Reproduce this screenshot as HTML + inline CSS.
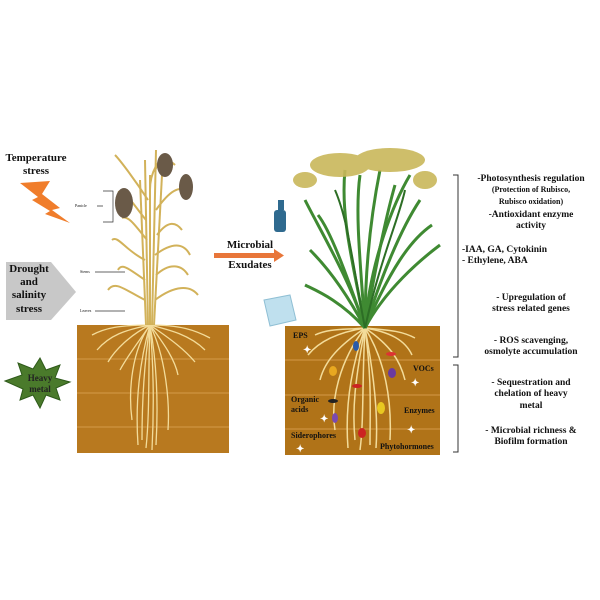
<!DOCTYPE html>
<html><head><meta charset="utf-8"><style>
body{margin:0;background:#fff;width:600px;height:600px;overflow:hidden;position:relative;font-family:"Liberation Serif",serif;font-weight:bold;color:#111}
.t{position:absolute;text-align:center;line-height:1.2}
</style></head><body>
<svg width="600" height="600" style="position:absolute;left:0;top:0">
<polygon points="20,183 50,181 42,194 60,208 52,210 70,223 45,214 50,211 32,200 38,197" fill="#f07d2b"/>
<polygon points="6,262 51,262 76,292 51,320 6,320" fill="#c8c8c8"/>
<polygon points="5,381 22,375 18,363 33,369 40,358 46,370 60,365 55,378 70,382 56,388 60,400 46,395 40,408 33,395 20,400 23,389" fill="#4a7a2b" stroke="#2e5a1a"/>
<rect x="214" y="253" width="62" height="5" fill="#e8763a"/><polygon points="274,249 284,255.5 274,262" fill="#e8763a"/>
<rect x="77" y="325" width="152" height="128" fill="#b8791f"/>
<g stroke="#d49a48" stroke-width="1"><line x1="77" y1="359" x2="229" y2="359"/><line x1="77" y1="393" x2="229" y2="393"/><line x1="77" y1="427" x2="229" y2="427"/></g>
<rect x="285" y="326" width="155" height="129" fill="#b07318"/>
<g stroke="#d49a48" stroke-width="1"><line x1="285" y1="360" x2="440" y2="360"/><line x1="285" y1="395" x2="440" y2="395"/><line x1="285" y1="429" x2="440" y2="429"/></g>
<g stroke="#f3dc9a" stroke-width="1.3" fill="none">
<path d="M150,325 C140,360 135,400 138,445"/><path d="M150,325 C148,370 150,410 146,448"/><path d="M150,325 C158,370 158,410 156,445"/><path d="M150,325 C165,355 170,400 168,430"/><path d="M150,325 C132,350 128,390 132,420"/><path d="M150,325 C143,370 142,410 142,440"/><path d="M150,325 C154,370 154,410 152,450"/>
<path d="M150,325 C125,330 110,335 97,350"/><path d="M150,325 C170,330 190,335 205,350"/><path d="M150,325 C130,335 115,350 108,362"/><path d="M150,325 C172,340 185,350 195,362"/><path d="M150,325 C140,340 128,355 120,370"/><path d="M150,325 C165,345 175,360 178,375"/><path d="M150,325 C120,325 105,328 92,335"/><path d="M150,325 C180,325 195,330 210,338"/>
</g>
<g stroke="#d2b25a" stroke-width="2" fill="none">
<path d="M148,325 L145,160"/><path d="M152,325 L156,150"/><path d="M150,325 L150,175"/><path d="M146,325 L140,180"/><path d="M154,325 L162,175"/>
<path d="M145,300 C125,290 115,280 108,290"/><path d="M155,300 C175,285 190,285 198,295"/><path d="M145,260 C125,250 118,235 112,240"/><path d="M155,255 C175,240 185,245 190,255"/><path d="M146,220 C130,200 125,190 118,192"/><path d="M156,210 C170,190 180,185 188,192"/><path d="M150,190 C150,170 160,160 165,155"/><path d="M148,200 C135,180 120,160 115,155"/><path d="M145,280 C130,270 122,262 118,270"/><path d="M156,275 C170,262 182,265 188,275"/><path d="M147,240 C135,225 128,215 122,218"/><path d="M157,235 C168,220 176,222 182,230"/><path d="M155,170 C160,160 168,158 175,165"/>
</g>
<g fill="#6a5a48"><ellipse cx="124" cy="203" rx="9" ry="15"/><ellipse cx="165" cy="165" rx="8" ry="12"/><ellipse cx="186" cy="187" rx="7" ry="13"/></g>
<g stroke="#333" stroke-width="0.7" fill="none"><path d="M103,191 L113,191 L113,222 L103,222 M103,206 L97,206"/><line x1="95" y1="272" x2="125" y2="272"/><line x1="95" y1="311" x2="125" y2="311"/></g>
<g stroke="#f3dc9a" stroke-width="1.5" fill="none">
<path d="M365,328 C350,370 345,410 348,448"/><path d="M365,328 C362,380 364,420 360,450"/><path d="M365,328 C375,380 378,420 376,448"/><path d="M365,328 C385,360 392,400 390,440"/><path d="M365,328 C340,360 330,400 335,430"/><path d="M365,328 C355,380 352,410 355,440"/><path d="M365,328 C372,380 370,410 370,445"/>
<path d="M365,328 C340,332 320,340 308,355"/><path d="M365,328 C390,332 405,340 412,355"/><path d="M365,328 C340,345 325,360 320,380"/><path d="M365,328 C390,345 400,360 405,380"/><path d="M365,328 C345,330 330,328 315,335"/><path d="M365,328 C385,330 400,330 415,338"/>
</g>
<g><ellipse cx="356" cy="346" rx="3" ry="5" fill="#2a5aa8"/><ellipse cx="391" cy="354" rx="5" ry="2" fill="#d33"/><ellipse cx="333" cy="371" rx="4" ry="5" fill="#e8a820"/><ellipse cx="392" cy="373" rx="4" ry="5" fill="#6a3aa0"/><ellipse cx="357" cy="386" rx="5" ry="2" fill="#c22"/><ellipse cx="381" cy="408" rx="4" ry="6" fill="#e8c820"/><ellipse cx="335" cy="418" rx="3" ry="5" fill="#7a4ab0"/><ellipse cx="362" cy="433" rx="4" ry="5" fill="#c22"/><ellipse cx="333" cy="401" rx="5" ry="2" fill="#222"/></g>
<g stroke="#3f8a32" stroke-width="3" fill="none">
<path d="M365,328 C350,280 320,230 305,200"/><path d="M365,328 C355,270 340,220 345,170"/><path d="M365,328 C365,270 370,220 380,170"/><path d="M365,328 C380,280 400,230 420,200"/><path d="M365,328 C385,290 420,260 440,245"/><path d="M365,328 C340,300 315,290 305,285"/><path d="M365,328 C370,260 395,200 410,175"/>
<path d="M365,328 C345,270 330,230 318,215"/><path d="M365,328 C360,260 355,210 360,175"/><path d="M365,328 C375,270 385,220 395,185"/><path d="M365,328 C390,270 410,240 432,225"/><path d="M365,328 C345,290 325,265 310,250"/>
</g>
<g stroke="#2d6e25" stroke-width="2" fill="none"><path d="M365,328 C352,260 348,220 335,190"/><path d="M365,328 C380,260 400,215 405,190"/></g>
<g fill="#c9b75a" opacity="0.9"><ellipse cx="340" cy="165" rx="30" ry="12"/><ellipse cx="390" cy="160" rx="35" ry="12"/><ellipse cx="305" cy="180" rx="12" ry="8"/><ellipse cx="425" cy="180" rx="12" ry="9"/></g>
<rect x="274" y="210" width="12" height="22" rx="3" fill="#2f6a8f"/><rect x="278" y="200" width="6" height="10" fill="#2f6a8f"/>
<path d="M264,300 L290,295 L296,320 L270,326 Z" fill="#bfe0ee" stroke="#8fbfd4"/>
<g stroke="#333" stroke-width="1" fill="none"><path d="M453,175 L458,175 L458,357 L453,357"/><path d="M453,365 L458,365 L458,452 L453,452"/></g>
<g fill="#fff" font-size="10"><text x="303" y="353">✦</text><text x="411" y="386">✦</text><text x="320" y="422">✦</text><text x="407" y="433">✦</text><text x="296" y="452">✦</text></g>
</svg>
<div class="t" style="left:2px;top:152px;width:68px;font-size:11px">Temperature<br>stress</div>
<div class="t" style="left:6px;top:263px;width:46px;font-size:11px">Drought<br>and<br>salinity<br>stress</div>
<div class="t" style="left:20px;top:373px;width:40px;font-size:9px;color:#222">Heavy<br>metal</div>
<div class="t" style="left:210px;top:236px;width:80px;font-size:11px;line-height:1.8">Microbial<br>Exudates</div>
<div class="t" style="left:75px;top:204px;font-size:4px;font-weight:normal">Panicle</div>
<div class="t" style="left:80px;top:270px;font-size:4px;font-weight:normal">Stems</div>
<div class="t" style="left:80px;top:309px;font-size:4px;font-weight:normal">Leaves</div>
<div class="t" style="left:293px;top:331px;font-size:8px;text-align:left">EPS</div>
<div class="t" style="left:413px;top:364px;font-size:8px;text-align:left">VOCs</div>
<div class="t" style="left:291px;top:395px;font-size:8px;text-align:left">Organic<br>acids</div>
<div class="t" style="left:404px;top:406px;font-size:8px;text-align:left">Enzymes</div>
<div class="t" style="left:291px;top:431px;font-size:8px;text-align:left">Siderophores</div>
<div class="t" style="left:380px;top:442px;font-size:8px;text-align:left">Phytohormones</div>
<div class="t" style="left:462px;top:174px;width:138px;font-size:9.5px">-Photosynthesis regulation<br><span style="font-size:8px">(Protection of Rubisco,<br>Rubisco oxidation)</span></div>
<div class="t" style="left:462px;top:210px;width:138px;font-size:9.5px">-Antioxidant enzyme<br>activity</div>
<div class="t" style="left:462px;top:245px;width:138px;font-size:9.5px;text-align:left">-IAA, GA, Cytokinin<br>- Ethylene, ABA</div>
<div class="t" style="left:462px;top:293px;width:138px;font-size:9.5px">- Upregulation of<br>stress related genes</div>
<div class="t" style="left:462px;top:336px;width:138px;font-size:9.5px">- ROS scavenging,<br>osmolyte accumulation</div>
<div class="t" style="left:462px;top:378px;width:138px;font-size:9.5px">- Sequestration and<br>chelation of heavy<br>metal</div>
<div class="t" style="left:462px;top:426px;width:138px;font-size:9.5px">- Microbial richness &amp;<br>Biofilm formation</div>
</body></html>
